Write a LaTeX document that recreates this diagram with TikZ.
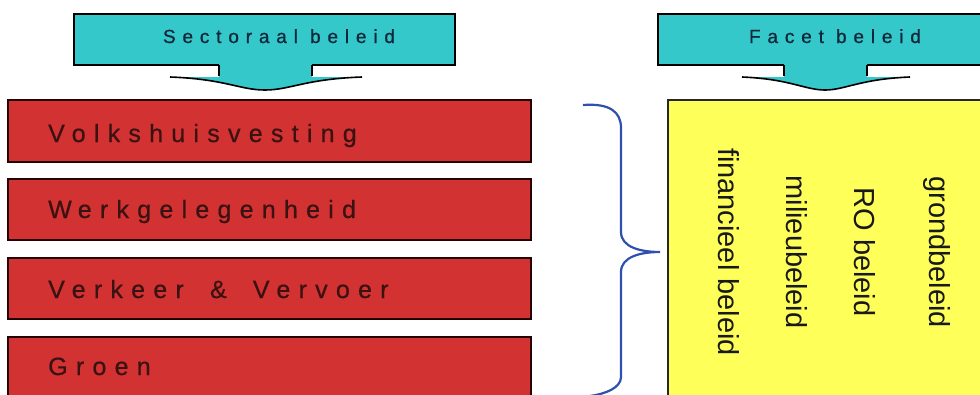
\documentclass[tikz,border=0pt]{standalone}
\usepackage{fontspec}
\setmainfont{Liberation Sans}
\newfontfamily\spacedfont[LetterSpace=33,FakeBold=0.6]{Liberation Sans}
\newfontfamily\bannerfont[LetterSpace=36,FakeBold=0.8]{Liberation Sans}
\definecolor{boxred}{HTML}{D33232}
\definecolor{bancyan}{HTML}{35C8CB}
\definecolor{facyellow}{HTML}{FFFF5A}
\definecolor{braceblue}{HTML}{2F50AE}
\definecolor{redtext}{HTML}{3A1212}
\definecolor{bantext}{HTML}{10283A}
\begin{document}
\begin{tikzpicture}[x=1pt,y=-1pt,
  sector/.style={draw=black!85!red,line width=1.5pt,fill=boxred},
  sectortext/.style={anchor=base west,inner sep=0pt,text=redtext,font=\spacedfont\fontsize{25}{30}\selectfont},
  banner/.style={draw=black,line width=1.3pt,fill=bancyan},
  bannertext/.style={anchor=base,inner sep=0pt,text=bantext,font=\bannerfont\fontsize{19}{23}\selectfont},
  tab/.style={fill=bancyan},
  tabline/.style={draw=black,line width=1.6pt},
  facet/.style={rotate=-90,inner sep=0pt,text=black!90,font=\fontsize{29}{34}\selectfont}]
\useasboundingbox (0,0) rectangle (980,394);
\clip (0,0) rectangle (980,394);
\fill[white] (0,0) rectangle (980,394);
% banners
\draw[banner] (74,14) rectangle (455,65);
\node[bannertext] (sect) at (279,43) {Sectoraal beleid};
\fill[tab] (219,64) -- (219,77) -- (170,77) .. controls (225,79) and (240,90) .. (265,90) .. controls (290,90) and (305,79) .. (362,77) -- (312,77) -- (312,64) -- cycle;
\draw[tabline] (219,65) -- (219,76);
\draw[tabline] (312,65) -- (312,76);
\draw[tabline] (170,77) .. controls (225,79) and (240,90) .. (265,90) .. controls (290,90) and (305,79) .. (362,77);
\coordinate (sectarrow) at (265,90);
\draw[banner] (658,14) rectangle (995,65);
\node[bannertext] (facetb) at (835,43) {Facet beleid};
\fill[tab] (784,64) -- (784,77) -- (742,77) .. controls (790,79) and (805,90) .. (825,90) .. controls (845,90) and (860,79) .. (910,77) -- (867,77) -- (867,64) -- cycle;
\draw[tabline] (784,65) -- (784,76);
\draw[tabline] (867,65) -- (867,76);
\draw[tabline] (742,77) .. controls (790,79) and (805,90) .. (825,90) .. controls (845,90) and (860,79) .. (910,77);
% sector boxes
\draw[sector] (8,100) rectangle (531,162);
\node[sectortext] (volk) at (48,142) {Volkshuisvesting};
\draw[sector] (8,179) rectangle (531,240);
\node[sectortext] (werk) at (48,218) {W\hspace{6pt}erkgelegenheid};
\draw[sector] (8,258) rectangle (531,319);
\node[sectortext] (verk) at (48,298) {Verkeer\hspace{11pt} \&\hspace{11pt} Vervoer};
\draw[sector] (8,337) rectangle (531,410);
\node[sectortext] (groen) at (48,375) {Groen};
% brace
\draw[braceblue,line width=2.2pt] (583,105) .. controls (610,103) and (621,112) .. (621,128) -- (621,232) .. controls (621,247) and (640,252) .. (660,252) .. controls (640,252) and (621,257) .. (621,272) -- (621,377) .. controls (621,388) and (605,394) .. (590,396);
% facet box
\draw[draw=black!85,line width=1.5pt,fill=facyellow] (668,100) rectangle (1000,410);
\node[facet] (fin) at (729,252) {financieel beleid};
\node[facet] (mil) at (797,252) {milieubeleid};
\node[facet] (ro) at (865,252) {RO beleid};
\node[facet] (grond) at (937,252) {grondbeleid};
\end{tikzpicture}
\end{document}
